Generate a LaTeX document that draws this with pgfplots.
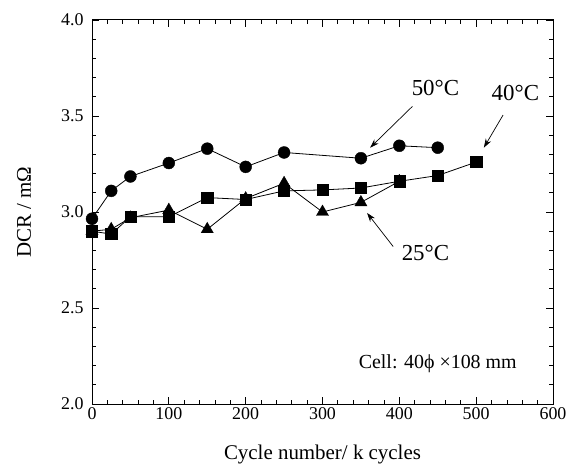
\documentclass[border=0pt]{standalone}
\usepackage{pgfplots}
\pgfplotsset{compat=1.18}
\usetikzlibrary{arrows.meta}
\usepackage{fontspec}
\setmainfont{Liberation Serif}
\begin{document}
\begin{tikzpicture}
\path[use as bounding box] (-92bp,-61bp) rectangle (482bp,404bp);
\begin{axis}[
  anchor=south west, at={(0,0)},
  scale only axis, width=461bp, height=384bp,
  xmin=0, xmax=600, ymin=2.0, ymax=4.0,
  xtick={0,100,...,600}, ytick={2.0,2.5,...,4.0},
  minor x tick num=4, minor y tick num=4,
  tick align=inside, major tick length=7bp, minor tick length=4bp,
  every tick/.style={black, line width=0.8pt},
  axis line style={line width=1pt},
  yticklabel style={/pgf/number format/fixed, /pgf/number format/fixed zerofill, /pgf/number format/precision=1, xshift=-5bp},
  /pgf/number format/assume math mode=true,
  tick label style={font=\fontsize{18}{20}\selectfont},
  label style={font=\fontsize{21}{24}\selectfont},
  xlabel={Cycle number/ k cycles},
  ylabel={DCR / m\symbol{"03A9}},
  xlabel style={at={(axis description cs:0.5,-0.1458)}, anchor=base},
  ylabel style={at={(axis description cs:-0.1475,0.5)}, anchor=center},
  clip=false,
]
% 25 C triangles
\addplot[black, line width=0.8pt, mark=triangle*, mark size=7pt, mark options={line width=0.4pt}] coordinates {
 (0,2.90) (25,2.91) (50,2.97) (100,3.01) (150,2.91) (200,3.07) (250,3.15) (300,3.00) (350,3.05) (400,3.16)
};
% 40 C squares
\addplot[black, line width=0.8pt, mark=square*, mark size=5.6pt, mark options={line width=0.4pt}] coordinates {
 (0,2.90) (25,2.885) (50,2.975) (100,2.975) (150,3.075) (200,3.065) (250,3.11) (300,3.115) (350,3.125) (400,3.16) (450,3.19) (500,3.26)
};
% 50 C circles
\addplot[black, line width=0.8pt, mark=*, mark size=6pt, mark options={line width=0.4pt}] coordinates {
 (0,2.965) (25,3.11) (50,3.185) (100,3.255) (150,3.33) (200,3.235) (250,3.31) (350,3.28) (400,3.345) (450,3.335)
};
\node[font=\fontsize{23}{26}\selectfont] at (axis cs:447,3.646) {50°C};
\draw[-{Stealth[length=9bp,width=6bp]}, line width=0.7pt] (axis cs:417,3.55) -- (axis cs:362,3.335);
\node[font=\fontsize{23}{26}\selectfont] at (axis cs:551,3.62) {40°C};
\draw[-{Stealth[length=9bp,width=6bp]}, line width=0.7pt] (axis cs:535,3.505) -- (axis cs:510,3.335);
\node[font=\fontsize{23}{26}\selectfont] at (axis cs:434,2.784) {25°C};
\draw[-{Stealth[length=9bp,width=6bp]}, line width=0.7pt] (axis cs:392,2.82) -- (axis cs:358,2.995);
\node[anchor=base east, font=\fontsize{20}{22}\selectfont, inner sep=0pt] at (axis cs:553,2.1875) {Cell: 40\symbol{"03D5} ×108 mm};
\end{axis}
\end{tikzpicture}
\end{document}
